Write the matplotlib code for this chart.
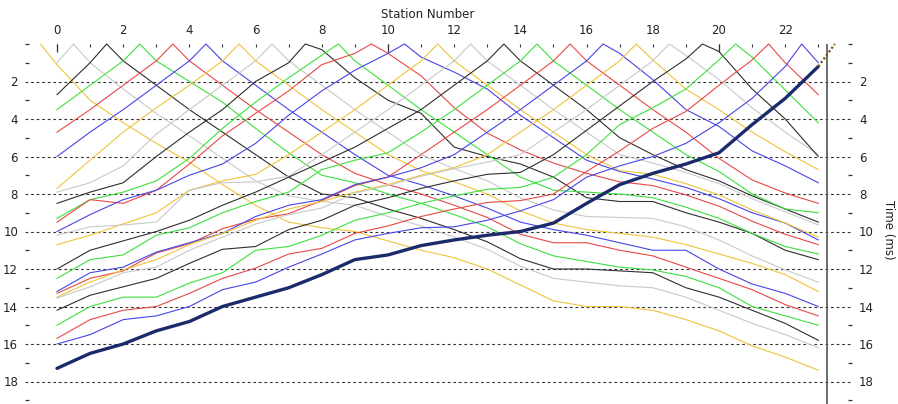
import matplotlib
matplotlib.use("Agg")
import matplotlib.pyplot as plt
import numpy as np
from matplotlib.ticker import FixedLocator

# receiver stations and shot positions
stations = list(range(24))
shot_pos = [-0.5, 0.5, 1.5, 2.5, 3.5, 4.5, 5.5, 6.5, 7.5, 8.5, 9.5, 10.5, 11.5,
            12.5, 13.5, 14.5, 15.5, 16.5, 17.5, 18.5, 19.5, 20.5, 21.5, 22.5, 23.5]

# first-break times (ms) at stations 0..23, one list per shot
shot_00 = [1.1, 3.0, 4.2, 5.3, 6.3, 7.5, 8.6, 9.5, 9.8, 10.0, 10.5, 11.0, 11.4, 12.0, 12.85, 13.7, 14.0, 14.0, 14.2, 14.7, 15.3, 16.1, 16.7, 17.4]
shot_01 = [1.0, 1.0, 2.4, 3.7, 4.9, 6.1, 7.3, 8.1, 8.4, 8.6, 9.2, 9.7, 10.3, 10.95, 11.85, 12.5, 12.7, 12.9, 13.0, 13.5, 14.2, 14.9, 15.5, 16.2]
shot_02 = [2.7, 1.0, 0.9, 2.2, 3.5, 4.7, 5.9, 7.1, 8.0, 8.2, 8.8, 9.3, 9.9, 10.55, 11.45, 12.0, 12.0, 12.1, 12.2, 13.0, 13.5, 14.2, 14.9, 15.8]
shot_03 = [3.5, 2.2, 0.9, 0.9, 2.0, 3.1, 4.5, 5.8, 7.0, 7.4, 8.0, 8.5, 9.1, 9.75, 10.65, 11.3, 11.6, 11.9, 12.05, 12.4, 13.0, 14.0, 14.5, 15.0]
shot_04 = [4.7, 3.5, 2.2, 0.9, 0.9, 2.2, 3.5, 4.7, 5.9, 6.9, 7.5, 8.0, 8.6, 9.25, 10.15, 10.6, 10.6, 11.0, 11.3, 11.9, 12.5, 13.1, 13.9, 14.5]
shot_05 = [6.0, 4.7, 3.5, 2.2, 0.9, 0.9, 2.2, 3.5, 4.7, 5.9, 7.0, 7.5, 8.1, 8.75, 9.5, 9.9, 10.2, 10.6, 11.0, 11.0, 12.0, 12.8, 13.3, 14.0]
shot_06 = [7.7, 6.2, 4.7, 3.4, 2.2, 0.9, 0.9, 2.2, 3.5, 4.7, 5.9, 6.75, 7.35, 8.0, 8.9, 9.55, 9.9, 10.1, 10.3, 10.7, 11.2, 11.7, 12.3, 13.2]
shot_07 = [7.9, 7.4, 6.5, 4.8, 3.5, 2.2, 0.9, 0.9, 2.2, 3.5, 4.7, 5.9, 6.65, 7.3, 8.2, 8.85, 9.2, 9.25, 9.3, 9.75, 10.45, 11.3, 12.05, 12.7]
shot_08 = [8.5, 7.9, 7.4, 6.0, 4.7, 3.5, 2.0, 1.0, 0.3, 1.8, 3.0, 3.7, 5.5, 6.0, 6.4, 7.1, 8.2, 8.4, 8.4, 9.0, 9.5, 10.1, 11.0, 11.5]
shot_09 = [9.3, 8.3, 7.9, 7.3, 6.1, 4.5, 3.1, 1.8, 0.6, 0.9, 2.2, 3.5, 4.7, 5.9, 7.1, 7.8, 7.9, 8.0, 8.2, 8.7, 9.3, 10.1, 10.8, 11.2]
shot_10 = [9.5, 8.3, 8.5, 7.8, 6.4, 4.9, 3.7, 2.5, 1.1, 0.5, 0.5, 1.7, 3.4, 4.75, 5.65, 6.35, 6.9, 7.35, 7.55, 8.05, 8.65, 9.45, 10.15, 10.7]
shot_11 = [10.0, 9.1, 8.3, 7.8, 7.0, 6.4, 5.3, 3.8, 2.5, 1.4, 0.5, 0.7, 1.5, 2.4, 3.8, 5.0, 6.2, 6.8, 7.2, 7.65, 8.25, 9.0, 9.55, 10.45]
shot_12 = [10.7, 10.2, 9.6, 9.0, 7.8, 7.3, 6.95, 5.9, 4.7, 3.5, 2.2, 0.9, 0.9, 2.2, 3.5, 4.7, 5.9, 6.75, 6.95, 7.45, 8.05, 8.85, 9.55, 10.3]
shot_13 = [10.2, 9.75, 9.65, 9.5, 7.8, 7.4, 7.35, 7.05, 5.9, 4.7, 3.5, 2.2, 0.9, 0.9, 2.2, 3.5, 4.7, 5.9, 6.35, 6.85, 7.45, 8.25, 8.95, 9.65]
shot_14 = [12.0, 11.0, 10.5, 10.0, 9.4, 8.6, 7.9, 7.1, 6.3, 5.5, 4.5, 3.5, 2.2, 0.9, 0.9, 2.2, 3.5, 5.0, 5.9, 6.7, 7.3, 8.1, 8.8, 9.5]
shot_15 = [12.5, 11.5, 11.25, 10.2, 9.8, 9.0, 8.4, 7.9, 6.7, 6.2, 5.8, 4.7, 3.5, 2.2, 0.9, 0.9, 2.2, 3.5, 4.7, 5.9, 6.8, 8.0, 8.8, 9.0]
shot_16 = [13.3, 12.5, 12.1, 11.15, 10.65, 9.85, 9.35, 9.05, 8.35, 7.55, 7.1, 5.9, 4.7, 3.5, 2.2, 0.9, 0.9, 2.2, 3.5, 4.7, 6.1, 7.25, 7.95, 8.5]
shot_17 = [13.2, 12.2, 11.9, 11.1, 10.6, 10.1, 9.2, 8.6, 8.3, 7.5, 7.1, 6.6, 5.9, 4.7, 3.5, 2.2, 0.9, 0.5, 1.9, 3.5, 4.4, 5.7, 6.5, 7.4]
shot_18 = [13.5, 12.7, 12.05, 11.5, 10.7, 10.1, 9.4, 8.8, 8.4, 7.9, 7.5, 7.0, 6.6, 5.9, 4.7, 3.5, 2.2, 0.9, 0.85, 2.4, 3.5, 4.7, 5.75, 6.7]
shot_19 = [13.55, 12.95, 12.2, 11.9, 11.0, 10.3, 9.6, 9.1, 8.75, 7.95, 7.55, 7.05, 6.65, 6.3, 5.9, 4.7, 3.5, 2.2, 0.9, 0.6, 1.9, 3.4, 4.7, 5.9]
shot_20 = [14.2, 13.4, 12.95, 12.5, 11.7, 10.95, 10.8, 9.9, 9.4, 8.6, 8.2, 7.7, 7.3, 6.95, 6.85, 5.9, 4.6, 3.3, 2.0, 0.8, 0.4, 2.4, 4.0, 6.0]
shot_21 = [15.0, 14.0, 13.5, 13.5, 12.75, 12.2, 11.0, 10.8, 10.2, 9.4, 9.0, 8.5, 8.1, 7.75, 7.65, 7.1, 5.9, 4.3, 3.4, 2.4, 0.85, 0.7, 2.45, 4.2]
shot_22 = [15.7, 14.7, 14.2, 14.0, 13.3, 12.5, 11.95, 11.2, 10.9, 10.1, 9.7, 9.2, 8.8, 8.45, 8.35, 8.0, 6.8, 5.7, 4.5, 3.6, 2.2, 0.85, 1.0, 2.7]
shot_23 = [16.0, 15.5, 14.7, 14.5, 14.0, 13.1, 12.7, 11.9, 11.2, 10.45, 10.1, 9.8, 9.75, 9.4, 8.9, 8.3, 7.1, 6.5, 6.0, 5.3, 4.2, 2.9, 1.2, 1.0]
shot_24 = [17.3, 16.5, 16.0, 15.3, 14.8, 14.0, 13.5, 13.0, 12.3, 11.5, 11.25, 10.75, 10.45, 10.2, 10.0, 9.55, 8.5, 7.5, 6.9, 6.4, 5.8, 4.3, 2.9, 1.2]

shots = [shot_00, shot_01, shot_02, shot_03, shot_04, shot_05, shot_06, shot_07,
         shot_08, shot_09, shot_10, shot_11, shot_12, shot_13, shot_14, shot_15,
         shot_16, shot_17, shot_18, shot_19, shot_20, shot_21, shot_22, shot_23]

cycle = ["#EEC43C", "#C9C9C9", "#2E2E2E", "#3EE03E", "#E84848", "#4646E6"]
navy = "#1B2A6B"

W, H = 898, 404
x0, sx = 57.0, 33.1      # pixel of station 0, pixels per station
y0, sy = 44.0, 18.75     # pixel of 0 ms, pixels per ms
ax_l, ax_r, ax_b = 25, 852, 404

fig = plt.figure(figsize=(W / 100, H / 100), dpi=100)
ax = fig.add_axes([ax_l / W, 0, (ax_r - ax_l) / W, (ax_b - y0) / H])
ax.set_xlim((ax_l - x0) / sx, (ax_r - x0) / sx)
ax.set_ylim((ax_b - y0) / sy, 0)
for sp in ax.spines.values():
    sp.set_visible(False)

# dashed grid
for t in range(2, 20, 2):
    ax.axhline(t, color="#333333", lw=0.8, ls=(0, (2.5, 2.5)), zorder=1)

# travel-time curves
for k, times in enumerate(shots):
    p = shot_pos[k]
    xs = np.array(stations, dtype=float)
    ts = np.array(times, dtype=float)
    i = np.searchsorted(xs, p)
    xs = np.insert(xs, i, p)
    ts = np.insert(ts, i, 0.0)
    ax.plot(xs, ts, color=cycle[k % 6], lw=0.8, zorder=2, clip_on=False)

# highlighted last shot
ax.plot(stations, shot_24, color=navy, lw=2.4, zorder=4, solid_capstyle="round")
ax.plot([stations[-1], shot_pos[-1]], [shot_24[-1], 0], color="#7A5A10", lw=1.6,
        ls=(0, (1, 1)), zorder=4, clip_on=False)

# end-of-line marker
ax.axvline(23.26, color="#555555", lw=1.2, zorder=3)

# top station ticks
ax.xaxis.set_ticks_position("top")
ax.xaxis.set_major_locator(FixedLocator(list(range(0, 24, 2))))
ax.xaxis.set_minor_locator(FixedLocator(list(range(1, 24, 2))))
ax.tick_params(axis="x", which="both", direction="in", length=2.5, width=0.8,
               color="#333333", pad=5, labelsize=8.5, labelcolor="#222222")
ax.vlines([0, 10, 20], 0, 0.45, color="#333333", lw=0.9, clip_on=False)

# time ticks on both sides
ax.yaxis.set_ticks_position("both")
ax.yaxis.set_major_locator(FixedLocator(list(range(2, 20, 2))))
ax.yaxis.set_minor_locator(FixedLocator([0] + list(range(1, 20, 2))))
ax.tick_params(axis="y", which="major", length=0, pad=5, labelsize=8.5,
               labelcolor="#222222", labelleft=True, labelright=True)
ax.tick_params(axis="y", which="minor", direction="in", length=3, width=0.9,
               color="#333333")

fig.text(428 / W, 1 - 14 / H, "Station Number", ha="center", va="center",
         fontsize=8.5, color="#222222")
fig.text(888 / W, 1 - 230 / H, "Time (ms)", ha="center", va="center",
         rotation=270, fontsize=8.5, color="#222222")

fig.savefig("out.png", dpi=100)
